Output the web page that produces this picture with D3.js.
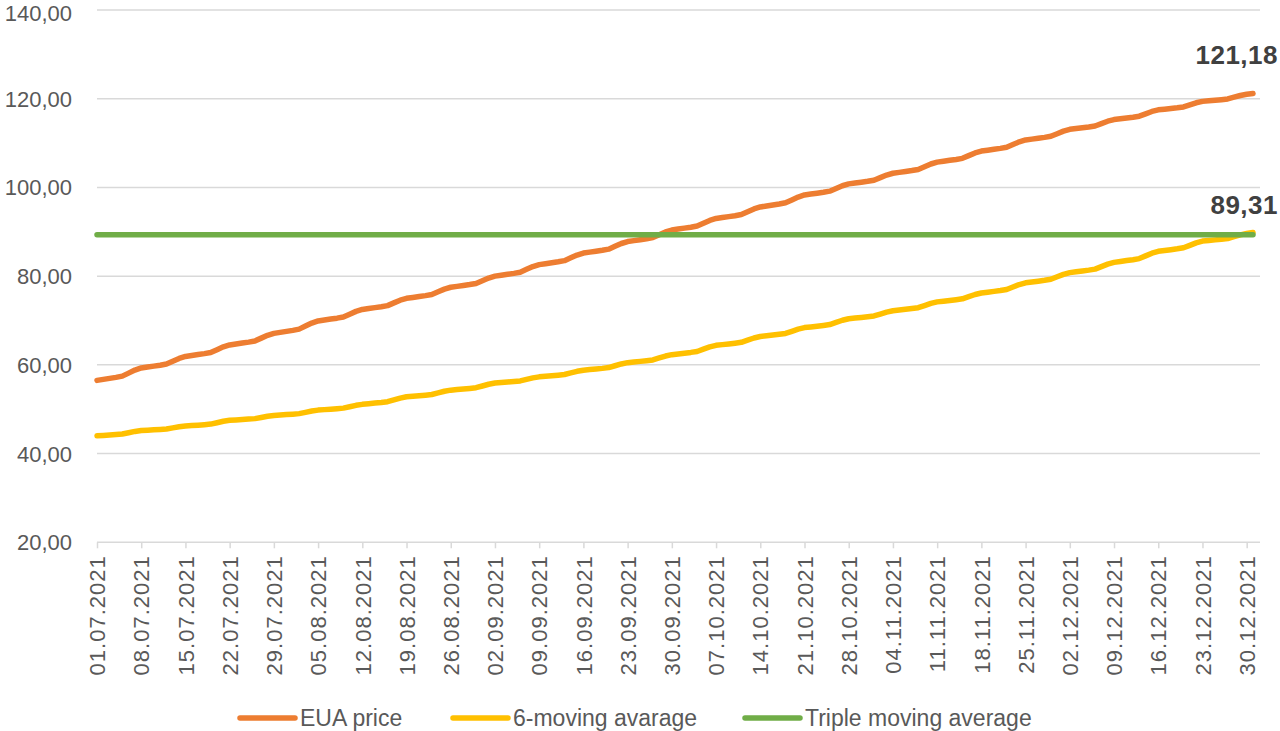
<!DOCTYPE html>
<html>
<head>
<meta charset="utf-8">
<script src="https://cdn.jsdelivr.net/npm/d3@7"></script>
<style>
  html, body { margin: 0; padding: 0; background: #fff; }
  svg { display: block; font-family: "Liberation Sans", Arial, sans-serif; }
</style>
</head>
<body>
<svg width="1280" height="731"></svg>
<script>
// daily dates 01.07.2021 - 31.12.2021
const startDate = new Date(2021, 6, 1);
const endDate = new Date(2022, 0, 1);

const euaPrice = [
  56.50, 56.73, 56.95, 57.18, 57.46, 58.14, 58.82,
  59.30, 59.51, 59.72, 59.93, 60.19, 60.83, 61.46,
  61.90, 62.11, 62.32, 62.53, 62.79, 63.43, 64.06,
  64.50, 64.71, 64.92, 65.13, 65.39, 66.03, 66.66,
  67.10, 67.33, 67.55, 67.78, 68.06, 68.74, 69.42,
  69.90, 70.11, 70.32, 70.53, 70.79, 71.43, 72.06,
  72.50, 72.70, 72.91, 73.11, 73.36, 73.97, 74.58,
  75.00, 75.20, 75.41, 75.61, 75.86, 76.47, 77.08,
  77.50, 77.70, 77.91, 78.11, 78.36, 78.97, 79.58,
  80.00, 80.21, 80.42, 80.63, 80.89, 81.53, 82.16,
  82.60, 82.81, 83.02, 83.23, 83.49, 84.13, 84.76,
  85.20, 85.41, 85.62, 85.83, 86.09, 86.73, 87.36,
  87.80, 88.01, 88.22, 88.43, 88.69, 89.33, 89.96,
  90.40, 90.61, 90.82, 91.03, 91.29, 91.93, 92.56,
  93.00, 93.21, 93.42, 93.63, 93.89, 94.53, 95.16,
  95.60, 95.82, 96.04, 96.26, 96.53, 97.19, 97.84,
  98.30, 98.50, 98.71, 98.91, 99.16, 99.77, 100.38,
  100.80, 100.99, 101.19, 101.38, 101.63, 102.21, 102.79,
  103.20, 103.40, 103.61, 103.81, 104.06, 104.67, 105.28,
  105.70, 105.90, 106.11, 106.31, 106.56, 107.17, 107.78,
  108.20, 108.40, 108.61, 108.81, 109.06, 109.67, 110.28,
  110.70, 110.89, 111.09, 111.28, 111.53, 112.11, 112.69,
  113.10, 113.28, 113.46, 113.64, 113.86, 114.39, 114.93,
  115.30, 115.48, 115.66, 115.84, 116.06, 116.59, 117.13,
  117.50, 117.65, 117.81, 117.96, 118.15, 118.62, 119.08,
  119.40, 119.53, 119.66, 119.79, 119.95, 120.34, 120.73,
  121.00, 121.18
];

const sixMovingAvg = [
  44.00, 44.10, 44.19, 44.29, 44.41, 44.70, 45.00,
  45.20, 45.28, 45.36, 45.44, 45.54, 45.79, 46.03,
  46.20, 46.31, 46.41, 46.52, 46.65, 46.96, 47.28,
  47.50, 47.59, 47.68, 47.77, 47.88, 48.15, 48.41,
  48.60, 48.70, 48.79, 48.89, 49.01, 49.30, 49.60,
  49.80, 49.91, 50.01, 50.12, 50.25, 50.56, 50.88,
  51.10, 51.24, 51.38, 51.51, 51.69, 52.10, 52.51,
  52.80, 52.92, 53.04, 53.17, 53.32, 53.68, 54.05,
  54.30, 54.43, 54.56, 54.69, 54.85, 55.24, 55.63,
  55.90, 56.01, 56.13, 56.24, 56.38, 56.72, 57.06,
  57.30, 57.42, 57.54, 57.67, 57.82, 58.18, 58.55,
  58.80, 58.94, 59.08, 59.21, 59.39, 59.80, 60.21,
  60.50, 60.65, 60.79, 60.94, 61.12, 61.56, 61.99,
  62.30, 62.47, 62.64, 62.81, 63.02, 63.53, 64.04,
  64.40, 64.56, 64.72, 64.89, 65.09, 65.57, 66.06,
  66.40, 66.56, 66.72, 66.89, 67.09, 67.57, 68.06,
  68.40, 68.56, 68.72, 68.89, 69.09, 69.57, 70.06,
  70.40, 70.55, 70.69, 70.84, 71.02, 71.46, 71.89,
  72.20, 72.36, 72.52, 72.69, 72.89, 73.37, 73.86,
  74.20, 74.36, 74.52, 74.69, 74.89, 75.37, 75.86,
  76.20, 76.39, 76.57, 76.76, 76.99, 77.55, 78.11,
  78.50, 78.69, 78.87, 79.06, 79.29, 79.85, 80.41,
  80.80, 80.99, 81.17, 81.36, 81.59, 82.15, 82.71,
  83.10, 83.30, 83.51, 83.71, 83.96, 84.57, 85.18,
  85.60, 85.79, 85.97, 86.16, 86.39, 86.95, 87.51,
  87.90, 88.04, 88.18, 88.31, 88.49, 88.90, 89.31,
  89.60, 89.85
];

const tripleMovingAvg = 89.31;

const yTicks = [20, 40, 60, 80, 100, 120, 140];
const tickEvery = 7;

const seriesNames = ['EUA price', '6-moving avarage', 'Triple moving average'];
const seriesColors = ['#ED7D31', '#FFC000', '#70AD47'];

function draw() {
    const svg = d3.select('svg');
    const dates = d3.timeDay.range(startDate, endDate);
    const locale = d3.formatLocale({decimal: ',', thousands: '.', grouping: [3], currency: ['', '']});
    const fmt = locale.format('.2f');
    const dateFmt = d3.timeFormat('%d.%m.%Y');

    const left = 97, right = 1253, axisEnd = 1260;
    const top = 10, bottom = 542.3;

    var xs = d3.scalePoint().domain(dates.map((d, i) => i)).range([left, right]);
    var ys = d3.scaleLinear().domain([20, 140]).range([bottom, top]);

    // gridlines
    svg.append('g')
        .selectAll('line')
        .data(yTicks)
        .enter().append('line')
        .attr('x1', left)
        .attr('x2', axisEnd)
        .attr('y1', d => ys(d))
        .attr('y2', d => ys(d))
        .attr('stroke', '#d9d9d9')
        .attr('stroke-width', 1.5);

    // y labels (top one nudged down so it stays inside the picture)
    svg.append('g')
        .selectAll('text')
        .data(yTicks)
        .enter().append('text')
        .attr('x', 72)
        .attr('y', d => Math.max(ys(d), 13))
        .attr('dy', '0.36em')
        .attr('text-anchor', 'end')
        .attr('font-size', 22)
        .attr('fill', '#595959')
        .text(d => fmt(d));

    // x axis
    const tickIdx = dates.map((d, i) => i).filter(i => i % tickEvery === 0);
    const xAxis = svg.append('g')
        .attr('transform', `translate(0,${bottom})`)
        .call(d3.axisBottom(xs).tickValues(tickIdx).tickSize(6).tickFormat(i => dateFmt(dates[i])));
    xAxis.select('.domain').remove();
    xAxis.selectAll('.tick line').attr('stroke', '#d9d9d9').attr('stroke-width', 1.5);
    xAxis.selectAll('.tick text')
        .attr('transform', 'translate(0,13) rotate(-90)')
        .attr('x', 0)
        .attr('y', 0)
        .attr('dy', '0.35em')
        .attr('text-anchor', 'end')
        .attr('font-size', 22)
        .attr('letter-spacing', 1)
        .attr('font-family', '"Liberation Sans", Arial, sans-serif')
        .attr('fill', '#595959');

    // lines
    const line = d3.line()
        .x((d, i) => xs(i))
        .y(d => ys(d));

    const allSeries = [euaPrice, sixMovingAvg, dates.map(() => tripleMovingAvg)];

    svg.append('g')
        .selectAll('path')
        .data(allSeries)
        .enter().append('path')
        .attr('d', d => line(d))
        .attr('fill', 'none')
        .attr('stroke', (d, i) => seriesColors[i])
        .attr('stroke-width', 5.5)
        .attr('stroke-linejoin', 'round')
        .attr('stroke-linecap', 'round');

    // end labels
    const lastI = dates.length - 1;
    const endLabels = [
        {v: euaPrice[lastI], y: ys(euaPrice[lastI]) - 29},
        {v: tripleMovingAvg, y: ys(tripleMovingAvg) - 21}
    ];
    svg.append('g')
        .selectAll('text')
        .data(endLabels)
        .enter().append('text')
        .attr('x', 1278)
        .attr('y', d => d.y)
        .attr('text-anchor', 'end')
        .attr('font-size', 26)
        .attr('font-weight', 'bold')
        .attr('letter-spacing', 0.5)
        .attr('fill', '#404040')
        .text(d => fmt(d.v));

    // legend
    const legendX = [240, 453, 745];
    const legend = svg.selectAll('.legend')
        .data(seriesNames)
        .enter().append('g')
        .attr('class', 'legend')
        .attr('transform', (d, i) => `translate(${legendX[i]},718)`);

    legend.append('line')
        .attr('x1', 0)
        .attr('x2', 55)
        .attr('stroke', (d, i) => seriesColors[i])
        .attr('stroke-width', 5.5)
        .attr('stroke-linecap', 'round');

    legend.append('text')
        .attr('x', 60)
        .attr('dy', '0.36em')
        .attr('font-size', 23)
        .attr('fill', '#595959')
        .text(d => d);
}

draw();
</script>
</body>
</html>
